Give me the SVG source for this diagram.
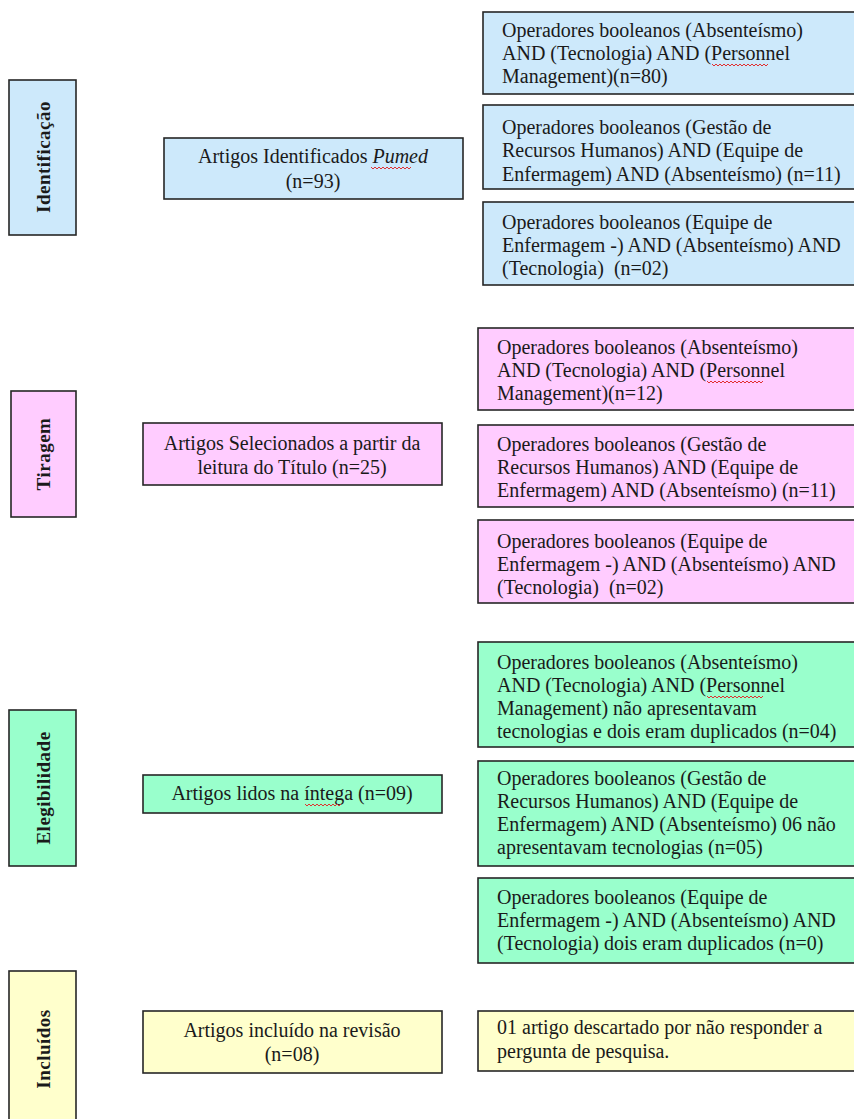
<svg xmlns="http://www.w3.org/2000/svg" width="854" height="1119" viewBox="0 0 854 1119">
<style>
.box{stroke:#262626;stroke-width:1.6}
.b{fill:#cde9fb}.p{fill:#ffccff}.g{fill:#99ffcc}.y{fill:#ffffcc}
text{font-family:"Liberation Serif","Times New Roman",serif;font-size:20px;fill:#1a1a1a}
.c{text-anchor:middle}
.side{font-weight:bold;font-size:19px;letter-spacing:0.5px;text-anchor:middle}
.sq{fill:none;stroke:#e03030;stroke-width:1}
</style>
<rect width="854" height="1119" fill="#ffffff"/>

<g id="connectors"></g>

<!-- Identificação -->
<g id="side-identificacao"><rect class="box b" x="9" y="80" width="67" height="155"/><text class="side" transform="translate(50,157) rotate(-90)">Identificação</text></g>
<g id="n-identificados"><rect class="box b" x="164" y="138" width="299" height="61"/>
<text class="c" x="313" y="163">Artigos Identificados <tspan font-style="italic">Pumed</tspan></text>
<text class="c" x="313" y="188">(n=93)</text>
<path class="sq" d="M371 167 l2 2 l2 -2 l2 2 l2 -2 l2 2 l2 -2 l2 2 l2 -2 l2 2 l2 -2 l2 2 l2 -2 l2 2 l2 -2 l2 2 l2 -2 l2 2 l2 -2 l2 2 l2 -2"/></g>
<g id="n-b1"><rect class="box b" x="483" y="12" width="380" height="82"/>
<text x="502" y="37">Operadores booleanos (Absenteísmo)</text>
<text x="502" y="60">AND (Tecnologia) AND (Personnel</text>
<text x="502" y="83">Management)(n=80)</text>
<path class="sq" d="M712 64 l2 2 l2 -2 l2 2 l2 -2 l2 2 l2 -2 l2 2 l2 -2 l2 2 l2 -2 l2 2 l2 -2 l2 2 l2 -2 l2 2 l2 -2 l2 2 l2 -2 l2 2 l2 -2 l2 2 l2 -2 l2 2 l2 -2 l2 2 l2 -2 l2 2 l2 -2"/></g>
<g id="n-b2"><rect class="box b" x="483" y="105" width="380" height="84"/>
<text x="502" y="134">Operadores booleanos (Gestão de</text>
<text x="502" y="157">Recursos Humanos) AND (Equipe de</text>
<text x="502" y="181">Enfermagem) AND (Absenteísmo) (n=11)</text></g>
<g id="n-b3"><rect class="box b" x="483" y="202" width="380" height="83"/>
<text x="502" y="229">Operadores booleanos (Equipe de</text>
<text x="502" y="252">Enfermagem -) AND (Absenteísmo) AND</text>
<text x="502" y="275" xml:space="preserve">(Tecnologia)  (n=02)</text></g>

<!-- Tiragem -->
<g id="side-tiragem"><rect class="box p" x="11" y="391" width="65" height="126"/><text class="side" transform="translate(50,454) rotate(-90)">Tiragem</text></g>
<g id="n-selecionados"><rect class="box p" x="143" y="423" width="299" height="62"/>
<text class="c" x="292" y="450">Artigos Selecionados a partir da</text>
<text class="c" x="292" y="474">leitura do Título (n=25)</text></g>
<g id="n-p1"><rect class="box p" x="478" y="328" width="385" height="82"/>
<text x="497" y="354">Operadores booleanos (Absenteísmo)</text>
<text x="497" y="377">AND (Tecnologia) AND (Personnel</text>
<text x="497" y="400">Management)(n=12)</text>
<path class="sq" d="M707 381 l2 2 l2 -2 l2 2 l2 -2 l2 2 l2 -2 l2 2 l2 -2 l2 2 l2 -2 l2 2 l2 -2 l2 2 l2 -2 l2 2 l2 -2 l2 2 l2 -2 l2 2 l2 -2 l2 2 l2 -2 l2 2 l2 -2 l2 2 l2 -2 l2 2 l2 -2"/></g>
<g id="n-p2"><rect class="box p" x="478" y="425" width="385" height="82"/>
<text x="497" y="451">Operadores booleanos (Gestão de</text>
<text x="497" y="474">Recursos Humanos) AND (Equipe de</text>
<text x="497" y="497">Enfermagem) AND (Absenteísmo) (n=11)</text></g>
<g id="n-p3"><rect class="box p" x="478" y="520" width="385" height="83"/>
<text x="497" y="548">Operadores booleanos (Equipe de</text>
<text x="497" y="571">Enfermagem -) AND (Absenteísmo) AND</text>
<text x="497" y="594" xml:space="preserve">(Tecnologia)  (n=02)</text></g>

<!-- Elegibilidade -->
<g id="side-elegibilidade"><rect class="box g" x="9" y="710" width="67" height="156"/><text class="side" transform="translate(50,788) rotate(-90)">Elegibilidade</text></g>
<g id="n-lidos"><rect class="box g" x="143" y="775" width="299" height="38"/>
<text class="c" x="292" y="800">Artigos lidos na íntega (n=09)</text>
<path class="sq" d="M305 804 l2 2 l2 -2 l2 2 l2 -2 l2 2 l2 -2 l2 2 l2 -2 l2 2 l2 -2 l2 2 l2 -2 l2 2 l2 -2 l2 2 l2 -2 l2 2 l2 -2"/></g>
<g id="n-g1"><rect class="box g" x="478" y="642" width="385" height="105"/>
<text x="497" y="669">Operadores booleanos (Absenteísmo)</text>
<text x="497" y="692">AND (Tecnologia) AND (Personnel</text>
<text x="497" y="715">Management) não apresentavam</text>
<text x="497" y="738">tecnologias e dois eram duplicados (n=04)</text>
<path class="sq" d="M707 696 l2 2 l2 -2 l2 2 l2 -2 l2 2 l2 -2 l2 2 l2 -2 l2 2 l2 -2 l2 2 l2 -2 l2 2 l2 -2 l2 2 l2 -2 l2 2 l2 -2 l2 2 l2 -2 l2 2 l2 -2 l2 2 l2 -2 l2 2 l2 -2 l2 2 l2 -2"/></g>
<g id="n-g2"><rect class="box g" x="478" y="761" width="385" height="105"/>
<text x="497" y="785">Operadores booleanos (Gestão de</text>
<text x="497" y="808">Recursos Humanos) AND (Equipe de</text>
<text x="497" y="831">Enfermagem) AND (Absenteísmo) 06 não</text>
<text x="497" y="854">apresentavam tecnologias (n=05)</text></g>
<g id="n-g3"><rect class="box g" x="478" y="878" width="385" height="85"/>
<text x="497" y="904">Operadores booleanos (Equipe de</text>
<text x="497" y="927">Enfermagem -) AND (Absenteísmo) AND</text>
<text x="497" y="950">(Tecnologia) dois eram duplicados (n=0)</text></g>

<!-- Incluídos -->
<g id="side-incluidos"><rect class="box y" x="9" y="971" width="67" height="160"/><text class="side" transform="translate(50,1049) rotate(-90)">Incluídos</text></g>
<g id="n-incluido"><rect class="box y" x="143" y="1011" width="299" height="62"/>
<text class="c" x="292" y="1037">Artigos incluído na revisão</text>
<text class="c" x="292" y="1061">(n=08)</text></g>
<g id="n-descartado"><rect class="box y" x="478" y="1011" width="385" height="60"/>
<text x="497" y="1034">01 artigo descartado por não responder a</text>
<text x="497" y="1058">pergunta de pesquisa.</text></g>
</svg>
